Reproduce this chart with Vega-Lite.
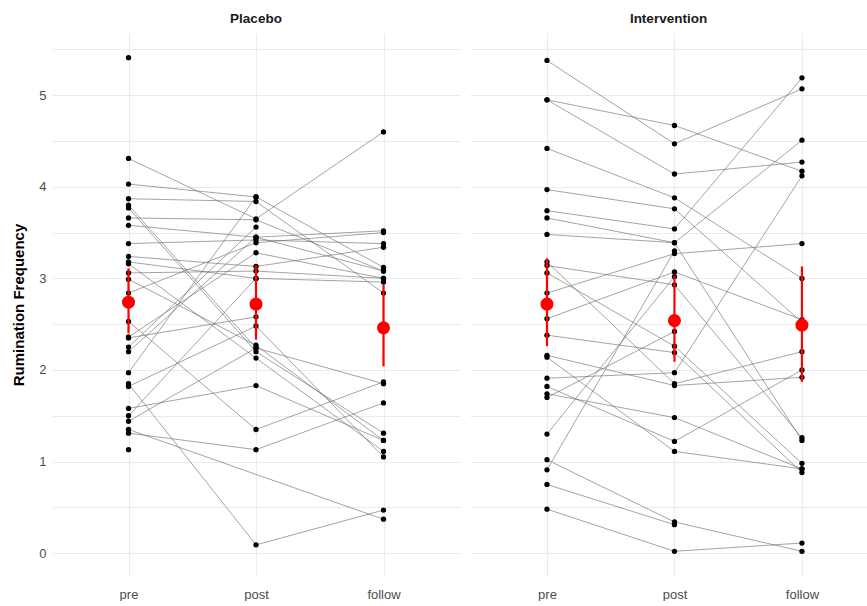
{
  "$schema": "https://vega.github.io/schema/vega-lite/v6.json",
  "background": "white",
  "padding": {"left": 11, "top": 11, "right": 0, "bottom": 0},
  "spacing": 10,
  "config": {
    "view": {"stroke": null},
    "font": "Liberation Sans",
    "axis": {
      "gridColor": "#ebebeb",
      "gridWidth": 1.1,
      "domain": false,
      "ticks": false,
      "tickSize": 0,
      "labelColor": "#4d4d4d",
      "labelFontSize": 13,
      "labelFont": "Liberation Sans",
      "titleFont": "Liberation Sans"
    },
    "title": {"font": "Liberation Sans", "fontSize": 13.5, "fontWeight": "bold", "color": "#1a1a1a", "anchor": "middle", "offset": 8}
  },
  "resolve": {"scale": {"x": "independent", "y": "independent"}},
  "datasets": {
    "placebo": [
      {"id": "P1", "t": "pre", "v": 5.41},
      {"id": "P2", "t": "pre", "v": 4.31}, {"id": "P2", "t": "post", "v": 3.65}, {"id": "P2", "t": "follow", "v": 4.60},
      {"id": "P3", "t": "pre", "v": 4.03}, {"id": "P3", "t": "post", "v": 3.89}, {"id": "P3", "t": "follow", "v": 3.12},
      {"id": "P4", "t": "pre", "v": 3.87}, {"id": "P4", "t": "post", "v": 3.84}, {"id": "P4", "t": "follow", "v": 2.84},
      {"id": "P5", "t": "pre", "v": 3.80}, {"id": "P5", "t": "post", "v": 2.24}, {"id": "P5", "t": "follow", "v": 1.85},
      {"id": "P6", "t": "pre", "v": 3.77}, {"id": "P6", "t": "post", "v": 2.20}, {"id": "P6", "t": "follow", "v": 1.31},
      {"id": "P7", "t": "pre", "v": 3.66}, {"id": "P7", "t": "post", "v": 3.64}, {"id": "P7", "t": "follow", "v": 3.08},
      {"id": "P8", "t": "pre", "v": 3.58}, {"id": "P8", "t": "post", "v": 3.45}, {"id": "P8", "t": "follow", "v": 3.52},
      {"id": "P9", "t": "pre", "v": 3.38}, {"id": "P9", "t": "post", "v": 3.42}, {"id": "P9", "t": "follow", "v": 3.38},
      {"id": "P10", "t": "pre", "v": 3.24}, {"id": "P10", "t": "post", "v": 3.13}, {"id": "P10", "t": "follow", "v": 3.34},
      {"id": "P11", "t": "pre", "v": 3.18}, {"id": "P11", "t": "post", "v": 3.00}, {"id": "P11", "t": "follow", "v": 2.96},
      {"id": "P12", "t": "pre", "v": 3.16}, {"id": "P12", "t": "post", "v": 2.13}, {"id": "P12", "t": "follow", "v": 1.11},
      {"id": "P13", "t": "pre", "v": 3.06}, {"id": "P13", "t": "post", "v": 3.08}, {"id": "P13", "t": "follow", "v": 3.00},
      {"id": "P14", "t": "pre", "v": 2.99}, {"id": "P14", "t": "post", "v": 2.27}, {"id": "P14", "t": "follow", "v": 1.23},
      {"id": "P15", "t": "pre", "v": 2.84}, {"id": "P15", "t": "post", "v": 3.39}, {"id": "P15", "t": "follow", "v": 3.50},
      {"id": "P16", "t": "pre", "v": 2.53}, {"id": "P16", "t": "post", "v": 1.35}, {"id": "P16", "t": "follow", "v": 1.87},
      {"id": "P17", "t": "pre", "v": 2.36}, {"id": "P17", "t": "post", "v": 3.28}, {"id": "P17", "t": "follow", "v": 3.00},
      {"id": "P18", "t": "pre", "v": 2.35}, {"id": "P18", "t": "post", "v": 2.58},
      {"id": "P19", "t": "pre", "v": 2.25}, {"id": "P19", "t": "post", "v": 3.56},
      {"id": "P20", "t": "pre", "v": 2.20}, {"id": "P20", "t": "post", "v": 3.45}, {"id": "P20", "t": "follow", "v": 3.08},
      {"id": "P21", "t": "pre", "v": 1.97}, {"id": "P21", "t": "post", "v": 3.89},
      {"id": "P22", "t": "pre", "v": 1.85}, {"id": "P22", "t": "post", "v": 0.09}, {"id": "P22", "t": "follow", "v": 0.47},
      {"id": "P23", "t": "pre", "v": 1.82}, {"id": "P23", "t": "post", "v": 2.48}, {"id": "P23", "t": "follow", "v": 1.05},
      {"id": "P24", "t": "pre", "v": 1.58}, {"id": "P24", "t": "post", "v": 1.83}, {"id": "P24", "t": "follow", "v": 1.23},
      {"id": "P25", "t": "pre", "v": 1.50}, {"id": "P25", "t": "post", "v": 3.00},
      {"id": "P26", "t": "pre", "v": 1.44}, {"id": "P26", "t": "post", "v": 2.24},
      {"id": "P27", "t": "pre", "v": 1.35}, {"id": "P27", "t": "follow", "v": 0.37},
      {"id": "P28", "t": "pre", "v": 1.31}, {"id": "P28", "t": "post", "v": 1.13}, {"id": "P28", "t": "follow", "v": 1.64},
      {"id": "P29", "t": "pre", "v": 1.13}
    ],
    "intervention": [
      {"id": "I1", "t": "pre", "v": 5.38}, {"id": "I1", "t": "post", "v": 4.47}, {"id": "I1", "t": "follow", "v": 5.07},
      {"id": "I2", "t": "pre", "v": 4.95}, {"id": "I2", "t": "post", "v": 4.67}, {"id": "I2", "t": "follow", "v": 4.17},
      {"id": "I3", "t": "pre", "v": 4.95}, {"id": "I3", "t": "post", "v": 4.14}, {"id": "I3", "t": "follow", "v": 4.27},
      {"id": "I4", "t": "pre", "v": 4.42}, {"id": "I4", "t": "post", "v": 3.88}, {"id": "I4", "t": "follow", "v": 3.00},
      {"id": "I5", "t": "pre", "v": 3.97}, {"id": "I5", "t": "post", "v": 3.76}, {"id": "I5", "t": "follow", "v": 2.52},
      {"id": "I6", "t": "pre", "v": 3.74}, {"id": "I6", "t": "post", "v": 3.54}, {"id": "I6", "t": "follow", "v": 5.19},
      {"id": "I7", "t": "pre", "v": 3.66}, {"id": "I7", "t": "post", "v": 3.39}, {"id": "I7", "t": "follow", "v": 4.51},
      {"id": "I8", "t": "pre", "v": 3.48}, {"id": "I8", "t": "post", "v": 3.39}, {"id": "I8", "t": "follow", "v": 1.23},
      {"id": "I9", "t": "pre", "v": 2.84}, {"id": "I9", "t": "post", "v": 3.27}, {"id": "I9", "t": "follow", "v": 3.38},
      {"id": "I10", "t": "pre", "v": 3.14}, {"id": "I10", "t": "post", "v": 2.93}, {"id": "I10", "t": "follow", "v": 1.26},
      {"id": "I11", "t": "pre", "v": 3.06}, {"id": "I11", "t": "post", "v": 2.26}, {"id": "I11", "t": "follow", "v": 0.98},
      {"id": "I12", "t": "pre", "v": 3.18}, {"id": "I12", "t": "post", "v": 1.85}, {"id": "I12", "t": "follow", "v": 2.20},
      {"id": "I13", "t": "pre", "v": 2.56}, {"id": "I13", "t": "post", "v": 3.07}, {"id": "I13", "t": "follow", "v": 2.55},
      {"id": "I14", "t": "pre", "v": 2.38}, {"id": "I14", "t": "post", "v": 2.19}, {"id": "I14", "t": "follow", "v": 0.88},
      {"id": "I15", "t": "pre", "v": 1.91}, {"id": "I15", "t": "post", "v": 1.97}, {"id": "I15", "t": "follow", "v": 4.12},
      {"id": "I16", "t": "pre", "v": 2.16}, {"id": "I16", "t": "post", "v": 1.83}, {"id": "I16", "t": "follow", "v": 1.92},
      {"id": "I17", "t": "pre", "v": 1.74}, {"id": "I17", "t": "post", "v": 1.48}, {"id": "I17", "t": "follow", "v": 0.92},
      {"id": "I18", "t": "pre", "v": 1.82}, {"id": "I18", "t": "post", "v": 1.22}, {"id": "I18", "t": "follow", "v": 2.00},
      {"id": "I19", "t": "pre", "v": 2.14}, {"id": "I19", "t": "post", "v": 1.11}, {"id": "I19", "t": "follow", "v": 0.92},
      {"id": "I20", "t": "pre", "v": 1.30}, {"id": "I20", "t": "post", "v": 3.02},
      {"id": "I21", "t": "pre", "v": 0.91}, {"id": "I21", "t": "post", "v": 3.30},
      {"id": "I22", "t": "pre", "v": 1.02}, {"id": "I22", "t": "post", "v": 0.34}, {"id": "I22", "t": "follow", "v": 0.02},
      {"id": "I23", "t": "pre", "v": 0.75}, {"id": "I23", "t": "post", "v": 0.31},
      {"id": "I24", "t": "pre", "v": 0.48}, {"id": "I24", "t": "post", "v": 0.02}, {"id": "I24", "t": "follow", "v": 0.11},
      {"id": "I25", "t": "pre", "v": 1.70}, {"id": "I25", "t": "post", "v": 2.42}
    ],
    "summary": [
      {"group": "Placebo", "t": "pre", "mean": 2.74, "lo": 2.40, "hi": 3.11},
      {"group": "Placebo", "t": "post", "mean": 2.72, "lo": 2.33, "hi": 3.14},
      {"group": "Placebo", "t": "follow", "mean": 2.46, "lo": 2.04, "hi": 2.93},
      {"group": "Intervention", "t": "pre", "mean": 2.72, "lo": 2.26, "hi": 3.22},
      {"group": "Intervention", "t": "post", "mean": 2.54, "lo": 2.09, "hi": 3.03},
      {"group": "Intervention", "t": "follow", "mean": 2.49, "lo": 1.87, "hi": 3.13}
    ]
  },
  "hconcat": [
    {
      "width": 408,
      "height": 543,
      "title": {"text": "Placebo"},
      "layer": [
        {
          "data": {"name": "placebo"},
          "mark": {"type": "line", "color": "#666666", "strokeWidth": 0.6},
          "encoding": {
            "x": {"field": "t", "type": "ordinal", "scale": {"type": "point", "domain": ["pre", "post", "follow"], "padding": 0.6}, "axis": {"title": null, "labelAngle": 0, "grid": true, "labelPadding": 12}},
            "y": {"field": "v", "type": "quantitative", "scale": {"domain": [-0.25, 5.68], "nice": false, "zero": false},
              "axis": {"title": "Rumination Frequency", "titleFontSize": 15, "titleFontWeight": "bold", "titleColor": "#000000", "titlePadding": 12, "labelPadding": 6,
                "values": [0, 0.5, 1, 1.5, 2, 2.5, 3, 3.5, 4, 4.5, 5, 5.5], "labelExpr": "datum.value % 1 == 0 ? format(datum.value, 'd') : ''", "grid": true}},
            "detail": {"field": "id"},
            "order": {"value": null}
          }
        },
        {
          "data": {"name": "placebo"},
          "mark": {"type": "circle", "color": "#000000", "size": 28, "opacity": 1},
          "encoding": {
            "x": {"field": "t", "type": "ordinal"},
            "y": {"field": "v", "type": "quantitative"}
          }
        },
        {
          "data": {"name": "summary"},
          "transform": [{"filter": "datum.group == 'Placebo'"}],
          "mark": {"type": "rule", "color": "#ff0000", "strokeWidth": 2.2},
          "encoding": {
            "x": {"field": "t", "type": "ordinal"},
            "y": {"field": "lo", "type": "quantitative"},
            "y2": {"field": "hi"}
          }
        },
        {
          "data": {"name": "summary"},
          "transform": [{"filter": "datum.group == 'Placebo'"}],
          "mark": {"type": "circle", "color": "#ff0000", "size": 170, "opacity": 1},
          "encoding": {
            "x": {"field": "t", "type": "ordinal"},
            "y": {"field": "mean", "type": "quantitative"}
          }
        }
      ]
    },
    {
      "width": 397,
      "height": 543,
      "title": {"text": "Intervention"},
      "layer": [
        {
          "data": {"name": "intervention"},
          "mark": {"type": "line", "color": "#666666", "strokeWidth": 0.6},
          "encoding": {
            "x": {"field": "t", "type": "ordinal", "scale": {"type": "point", "domain": ["pre", "post", "follow"], "padding": 0.557, "align": 0.542}, "axis": {"title": null, "labelAngle": 0, "grid": true, "labelPadding": 12}},
            "y": {"field": "v", "type": "quantitative", "scale": {"domain": [-0.25, 5.68], "nice": false, "zero": false},
              "axis": {"title": null, "labels": false, "labelPadding": 0,
                "values": [0, 0.5, 1, 1.5, 2, 2.5, 3, 3.5, 4, 4.5, 5, 5.5], "grid": true}},
            "detail": {"field": "id"},
            "order": {"value": null}
          }
        },
        {
          "data": {"name": "intervention"},
          "mark": {"type": "circle", "color": "#000000", "size": 28, "opacity": 1},
          "encoding": {
            "x": {"field": "t", "type": "ordinal"},
            "y": {"field": "v", "type": "quantitative"}
          }
        },
        {
          "data": {"name": "summary"},
          "transform": [{"filter": "datum.group == 'Intervention'"}],
          "mark": {"type": "rule", "color": "#ff0000", "strokeWidth": 2.2},
          "encoding": {
            "x": {"field": "t", "type": "ordinal"},
            "y": {"field": "lo", "type": "quantitative"},
            "y2": {"field": "hi"}
          }
        },
        {
          "data": {"name": "summary"},
          "transform": [{"filter": "datum.group == 'Intervention'"}],
          "mark": {"type": "circle", "color": "#ff0000", "size": 170, "opacity": 1},
          "encoding": {
            "x": {"field": "t", "type": "ordinal"},
            "y": {"field": "mean", "type": "quantitative"}
          }
        }
      ]
    }
  ]
}
